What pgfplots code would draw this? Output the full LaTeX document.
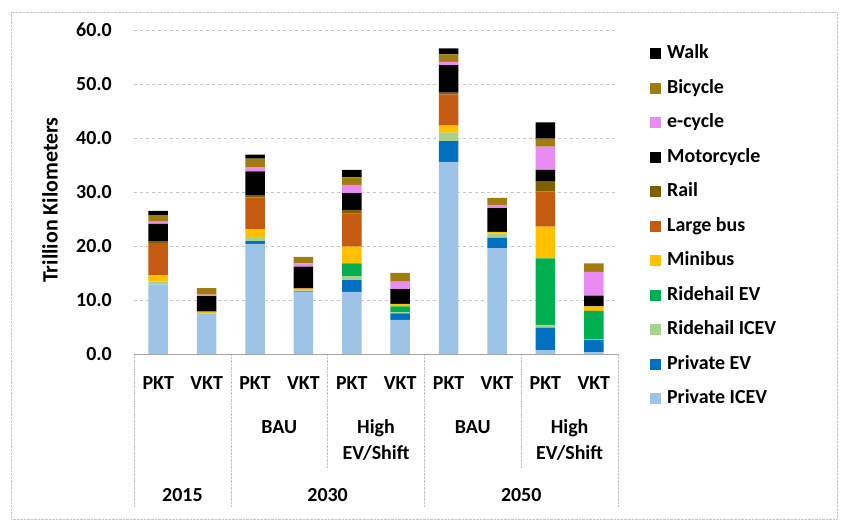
\documentclass[border=0pt]{standalone}
\usepackage{pgfplots}
\pgfplotsset{compat=1.18}
\usepackage{pgfplotstable}
\usepackage{fontspec}
\setmainfont{Carlito}
\newcommand\lf{\fontsize{20}{26}\selectfont\bfseries}
\definecolor{cPICE}{HTML}{9DC3E6}
\definecolor{cPEV}{HTML}{0070C0}
\definecolor{cRICE}{HTML}{A9D18E}
\definecolor{cREV}{HTML}{00B050}
\definecolor{cMini}{HTML}{FFC000}
\definecolor{cLBus}{HTML}{C55A11}
\definecolor{cRail}{HTML}{7F6000}
\definecolor{cMoto}{HTML}{000000}
\definecolor{cEcyc}{HTML}{E98CF2}
\definecolor{cBike}{HTML}{A17C0E}
\definecolor{cWalk}{HTML}{000000}

\pgfplotstableread{
x PICE PEV RICE REV Mini LBus Rail Moto Ecyc Bike Walk
0 12.9 0.0 0.5 0.0 1.2 6.0 0.2 3.3 0.4 1.2 0.8
1 7.5 0.0 0.1 0.0 0.2 0.1 0.0 2.8 0.3 1.2 0.0
2 20.4 0.5 0.8 0.0 1.4 5.9 0.4 4.4 0.8 1.6 0.7
3 11.5 0.1 0.2 0.0 0.3 0.1 0.0 4.0 0.6 1.2 0.0
4 11.5 2.2 0.7 2.4 3.1 6.1 0.7 3.1 1.5 1.4 1.4
5 6.3 1.2 0.2 1.1 0.5 0.0 0.0 2.7 1.4 1.6 0.0
6 35.6 3.8 1.6 0.0 1.3 5.8 0.3 5.1 0.6 1.4 1.1
7 19.6 1.9 0.8 0.0 0.3 0.0 0.0 4.4 0.6 1.3 0.0
8 0.7 4.2 0.5 12.3 5.9 6.5 1.8 2.2 4.3 1.5 3.0
9 0.3 2.3 0.1 5.3 0.8 0.0 0.0 2.0 4.4 1.6 0.0
}\data

\begin{document}
\begin{tikzpicture}[font=\lf]
\useasboundingbox (0,0) rectangle (841bp,523bp);
\draw[gray!45, densely dotted] (11bp,4bp) rectangle (837bp,511bp);
\begin{axis}[
  at={(134bp,169bp)}, anchor=south west,
  scale only axis, width=484bp, height=324bp,
  ybar stacked, bar width=19.5bp,
  ymin=0, ymax=60, xmin=-0.5, xmax=9.5,
  ytick={0,10,...,60},
  xtick={0,...,9},
  xticklabels={PKT,VKT,PKT,VKT,PKT,VKT,PKT,VKT,PKT,VKT},
  axis line style={draw=none}, tick style={draw=none},
  ymajorgrids, grid style={gray!45, dashed},
  clip=false,
  tick label style={font=\lf},
  yticklabel style={/pgf/number format/.cd, fixed, fixed zerofill, precision=1, assume math mode=true, /tikz/.cd, anchor=east, inner sep=0pt, xshift=-22bp},
  xticklabel style={anchor=center, inner sep=0pt, yshift=-29bp},
  ylabel={Trillion Kilometers},
  every axis y label/.style={at={(axis description cs:-0.1736,0.475)}, anchor=center, rotate=90, font=\fontsize{22}{26}\selectfont\bfseries},
  every axis plot/.append style={draw=none},
  reverse legend,
  legend cell align=left,
  legend image code/.code={\fill[#1] (0bp,-5.5bp) rectangle (11bp,5.5bp);},
  legend style={at={(axis description cs:1.066,0.955)}, anchor=north west, draw=none, fill=none, inner sep=0pt, row sep=16.5bp, font=\lf,
    nodes={inner sep=0pt, text height=14bp, text depth=4bp},
    /tikz/every odd column/.append style={column sep=6bp}},
]
\addplot[fill=cPICE] table[x=x,y=PICE]{\data};
\addplot[fill=cPEV] table[x=x,y=PEV]{\data};
\addplot[fill=cRICE] table[x=x,y=RICE]{\data};
\addplot[fill=cREV] table[x=x,y=REV]{\data};
\addplot[fill=cMini] table[x=x,y=Mini]{\data};
\addplot[fill=cLBus] table[x=x,y=LBus]{\data};
\addplot[fill=cRail] table[x=x,y=Rail]{\data};
\addplot[fill=cMoto] table[x=x,y=Moto]{\data};
\addplot[fill=cEcyc] table[x=x,y=Ecyc]{\data};
\addplot[fill=cBike] table[x=x,y=Bike]{\data};
\addplot[fill=cWalk] table[x=x,y=Walk]{\data};
\legend{Private ICEV,Private EV,Ridehail ICEV,Ridehail EV,Minibus,Large bus,Rail,Motorcycle,e-cycle,Bicycle,Walk}
\draw[gray!70] (axis cs:-0.5,0) -- (axis cs:9.5,0);
\draw[gray!50, densely dotted] (axis cs:-0.5,0) -- ([yshift=-153bp]axis cs:-0.5,0);
\draw[gray!50, densely dotted] (axis cs:1.5,0) -- ([yshift=-153bp]axis cs:1.5,0);
\draw[gray!50, densely dotted] (axis cs:5.5,0) -- ([yshift=-153bp]axis cs:5.5,0);
\draw[gray!50, densely dotted] (axis cs:9.5,0) -- ([yshift=-153bp]axis cs:9.5,0);
\draw[gray!50, densely dotted] (axis cs:3.5,0) -- ([yshift=-113bp]axis cs:3.5,0);
\draw[gray!50, densely dotted] (axis cs:7.5,0) -- ([yshift=-113bp]axis cs:7.5,0);
\node at (axis cs:2.5,0) [yshift=-73bp] {BAU};
\node[align=center] at (axis cs:4.5,0) [yshift=-86bp] {High\\EV/Shift};
\node at (axis cs:6.5,0) [yshift=-73bp] {BAU};
\node[align=center] at (axis cs:8.5,0) [yshift=-86bp] {High\\EV/Shift};
\node at (axis cs:0.5,0) [yshift=-141bp] {2015};
\node at (axis cs:3.5,0) [yshift=-141bp] {2030};
\node at (axis cs:7.5,0) [yshift=-141bp] {2050};
\end{axis}
\end{tikzpicture}
\end{document}
